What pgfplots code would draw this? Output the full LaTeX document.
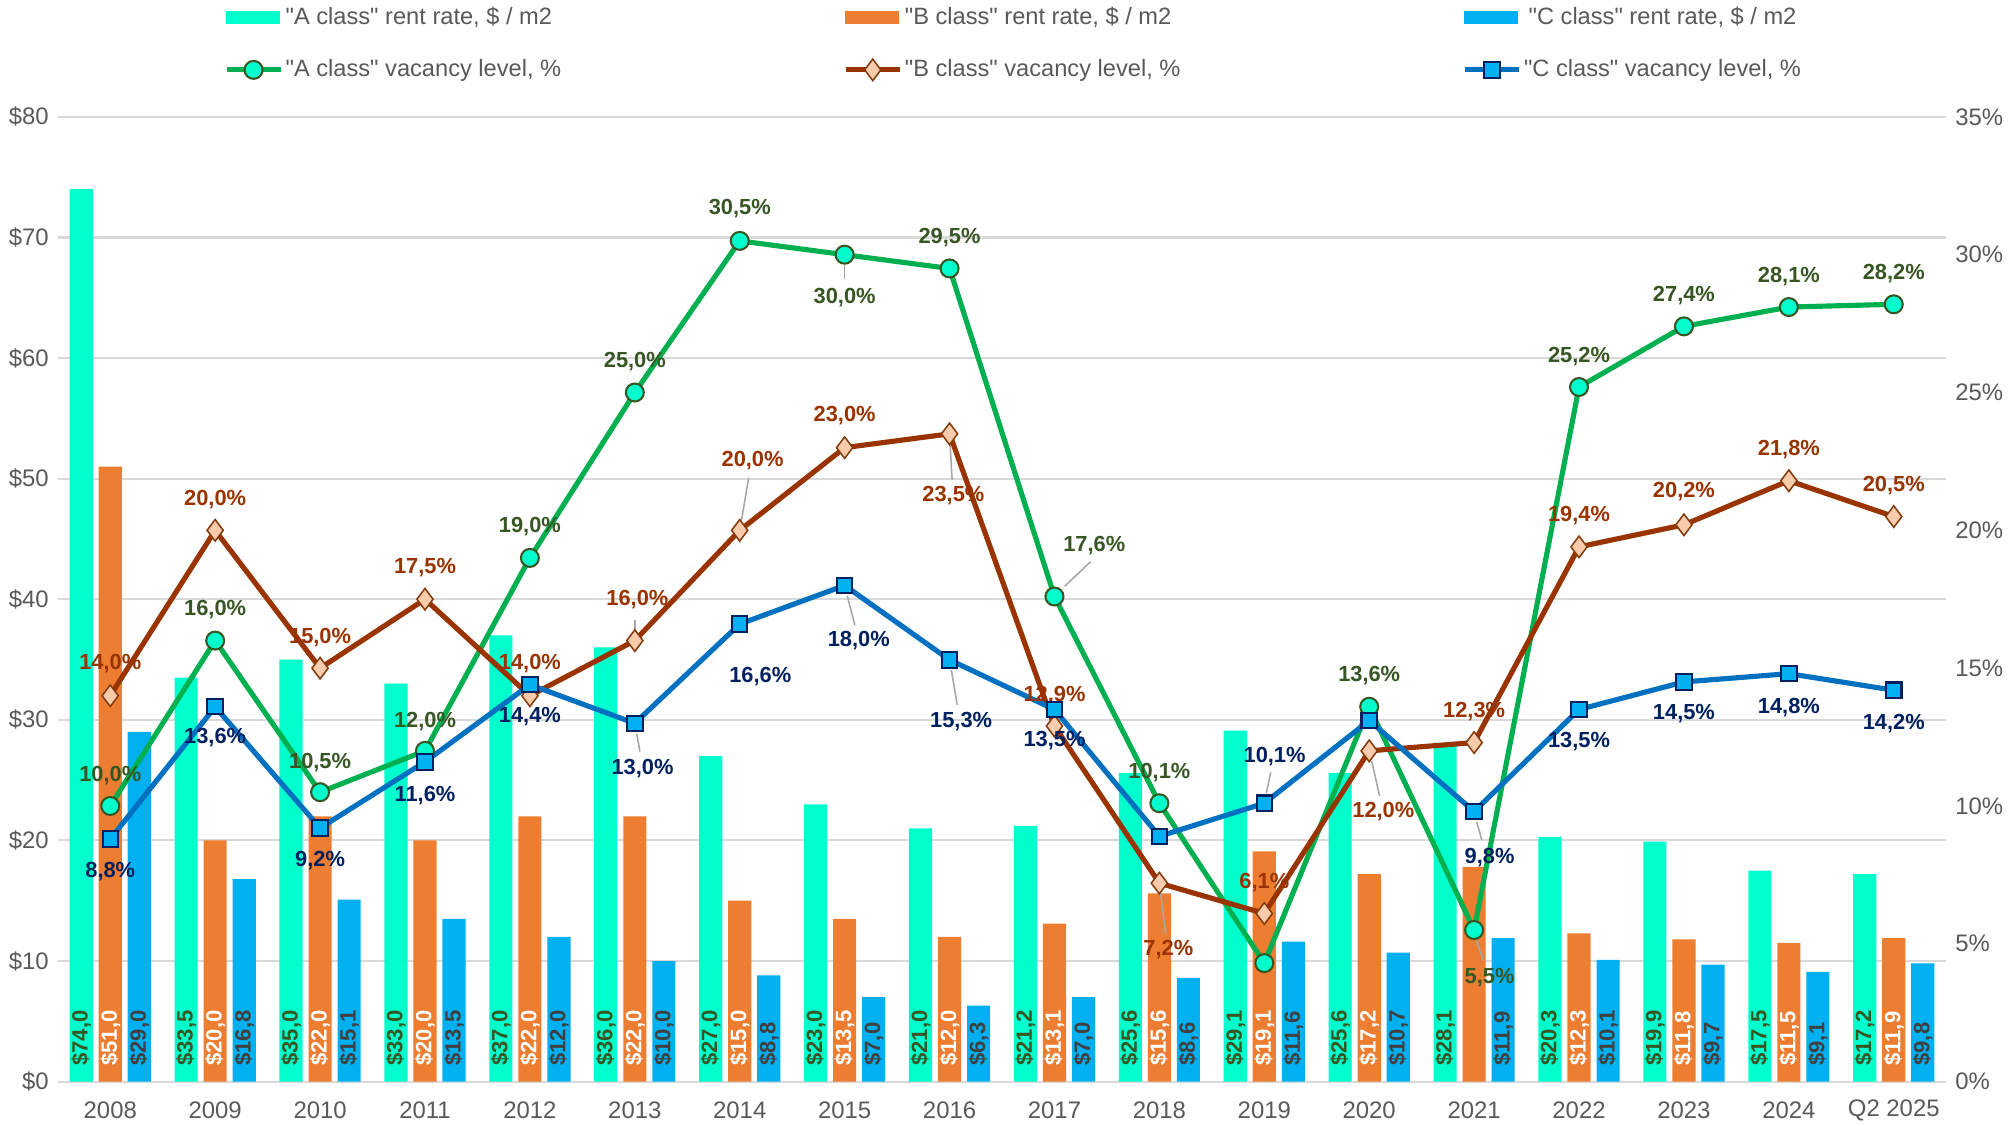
\documentclass[border=0pt]{standalone}
\usepackage{pgfplots}
\pgfplotsset{compat=1.18}
\usepackage{fontspec}
\setmainfont{Liberation Sans}[Ligatures=TeXOff]
\definecolor{barA}{HTML}{00FFCC}
\definecolor{barB}{HTML}{ED7D31}
\definecolor{barC}{HTML}{00B0F0}
\definecolor{lineA}{HTML}{00B050}
\definecolor{lineB}{HTML}{993300}
\definecolor{lineC}{HTML}{0070C0}
\definecolor{mkA}{HTML}{00FFCC}
\definecolor{mkB}{HTML}{F8CBAD}
\definecolor{mkC}{HTML}{00B0F0}
\definecolor{edA}{HTML}{375623}
\definecolor{edB}{HTML}{843C0C}
\definecolor{edC}{HTML}{002060}
\definecolor{labA}{HTML}{375623}
\definecolor{labB}{HTML}{993300}
\definecolor{labC}{HTML}{002060}
\definecolor{labCbar}{HTML}{404040}
\definecolor{tickgray}{HTML}{595959}
\definecolor{gridgray}{HTML}{D9D9D9}
\definecolor{leadgray}{HTML}{A6A6A6}

\tikzset{leader/.style={draw=leadgray, line width=0.6pt}}
\pgfplotsset{
  common/.style={width=735pt, height=375.5pt, scale only axis,
    xmin=-0.5, xmax=17.5,
    axis line style={draw=none}, tick style={draw=none},
    ticklabel style={font=\fontsize{9.3}{11}\selectfont, text=tickgray},
    /pgf/number format/assume math mode=true},
  barlab/.style={point meta=y,
    nodes near coords={\$\pgfmathprintnumber[fixed,fixed zerofill,precision=1,use comma,assume math mode=true]{\pgfplotspointmeta}},
    visualization depends on={\thisrow{y}\as\rawy},
    visualization depends on={\thisrow{show}\as\show},
    every node near coord/.append style={shift={(axis direction cs:0,-\rawy)}, rotate=90, anchor=west, inner sep=0pt, xshift=6pt,
      font=\bfseries\fontsize{8.6}{10}\selectfont, text=#1, opacity=\show}},
  linelab/.style={nodes near coords, point meta=explicit symbolic,
    visualization depends on={\thisrow{dx}\as\dx},
    visualization depends on={\thisrow{dy}\as\dy},
    every node near coord/.append style={anchor=center, xshift=\dx pt, yshift=\dy pt,
      font=\bfseries\fontsize{8.5}{10}\selectfont, text=#1}},
  linelegend/.style={legend image code/.code={\draw[mark repeat=2,mark phase=2,##1] plot coordinates {(0pt,0pt) (10.5pt,0pt) (21pt,0pt)};}},
}

\begin{document}
\begin{tikzpicture}
\begin{axis}[common,
  ymin=0, ymax=80, ytick={0,10,...,80},
  yticklabel={\$\pgfmathprintnumber{\tick}},
  xtick={0,...,17},
  xticklabels={2008,2009,2010,2011,2012,2013,2014,2015,2016,2017,2018,2019,2020,2021,2022,2023,2024,Q2 2025},
  xticklabel style={anchor=center, inner sep=1pt, yshift=-7pt},
  ymajorgrids, major grid style={draw=gridgray, line width=0.8pt},
  ybar=2.3pt, bar width=9pt,
  clip=false]
\addplot[fill=barA, draw=none, barlab=labA] table[x=x,y=y] {
x y show
0 74.0 1
1 33.5 1
2 35.0 1
3 33.0 1
4 37.0 1
5 36.0 1
6 27.0 1
7 23.0 1
8 21.0 1
9 21.2 1
10 25.6 1
11 29.1 1
12 25.6 1
13 28.1 1
14 20.3 1
15 19.9 1
16 17.5 1
17 17.2 1
};
\addplot[fill=barB, draw=none, barlab=white] table[x=x,y=y] {
x y show
0 51.0 1
1 20.0 1
2 22.0 1
3 20.0 1
4 22.0 1
5 22.0 1
6 15.0 1
7 13.5 1
8 12.0 1
9 13.1 1
10 15.6 1
11 19.1 1
12 17.2 1
13 17.8 0
14 12.3 1
15 11.8 1
16 11.5 1
17 11.9 1
};
\addplot[fill=barC, draw=none, barlab=labCbar] table[x=x,y=y] {
x y show
0 29.0 1
1 16.8 1
2 15.1 1
3 13.5 1
4 12.0 1
5 10.0 1
6 8.8 1
7 7.0 1
8 6.3 1
9 7.0 1
10 8.6 1
11 11.6 1
12 10.7 1
13 11.9 1
14 10.1 1
15 9.7 1
16 9.1 1
17 9.8 1
};
\path (rel axis cs:0,0) ++(-22.5pt,-17pt);
\path (rel axis cs:1,1) ++(26pt,45.5pt);
\end{axis}

\begin{axis}[common,
  ymin=0, ymax=35, ytick={0,5,...,35},
  yticklabel={\pgfmathprintnumber{\tick}\%},
  axis y line*=right, hide x axis,
  clip=false,
  legend columns=3,
  legend style={at={(0,1)}, anchor=north west, xshift=64.5pt, yshift=43pt, draw=none, fill=none,
    font=\fontsize{9.2}{11}\selectfont, row sep=12pt, inner sep=0pt,
    nodes={inner xsep=1pt, inner ysep=0pt},
    /tikz/every odd column/.append style={column sep=0pt},
    /tikz/every even column/.append style={column sep=0pt}},
  ]
\addlegendimage{legend image code/.code={\fill[barA] (0pt,-2.3pt) rectangle (20.5pt,2.3pt);}}
\addlegendentry{\makebox[216pt][l]{\textcolor{tickgray}{"A class" rent rate, \$ / m2}}}
\addlegendimage{legend image code/.code={\fill[barB] (0pt,-2.3pt) rectangle (20.5pt,2.3pt);}}
\addlegendentry{\makebox[216pt][l]{\textcolor{tickgray}{"B class" rent rate, \$ / m2}}}
\addlegendimage{legend image code/.code={\fill[barC] (0pt,-2.3pt) rectangle (20.5pt,2.3pt);}}
\addlegendentry{\textcolor{tickgray}{"C class" rent rate, \$ / m2}}

\draw[leader] (axis cs:7,30.0) ++(0pt,-4pt) -- ++(0pt,-5.5pt);
\draw[leader] (axis cs:9,17.6) ++(4pt,4pt) -- ++(10pt,9.5pt);
\draw[leader] (axis cs:13,5.5) ++(1pt,-4pt) -- ++(2.5pt,-8pt);
\draw[leader] (axis cs:5,16.0) ++(0pt,4pt) -- ++(0pt,4pt);
\draw[leader] (axis cs:6,20.0) ++(0.7pt,4pt) -- ++(2.8pt,16.5pt);
\draw[leader] (axis cs:8,23.5) ++(0.2pt,-4pt) -- ++(0.8pt,-14pt);
\draw[leader] (axis cs:10,7.2) ++(0.5pt,-4pt) -- ++(2pt,-16pt);
\draw[leader] (axis cs:12,12.0) ++(1pt,-4pt) -- ++(3pt,-13.5pt);
\draw[leader] (axis cs:5,13.0) ++(0.7pt,-4pt) -- ++(1.3pt,-7pt);
\draw[leader] (axis cs:7,18.0) ++(1pt,-4pt) -- ++(3pt,-11.5pt);
\draw[leader] (axis cs:8,15.3) ++(0.7pt,-4pt) -- ++(2.3pt,-13.5pt);
\draw[leader] (axis cs:11,10.1) ++(0.8pt,4pt) -- ++(1.7pt,8pt);
\draw[leader] (axis cs:13,9.8) ++(1pt,-4pt) -- ++(2pt,-7pt);

\addplot[lineA, line width=2pt, mark=*, mark size=3.5pt,
  mark options={fill=mkA, draw=edA, line width=0.8pt}, linelab=labA, linelegend]
  table[x=x, y=y, meta=lab] {
x y dx dy lab
0 10.0 0 12 10,0\%
1 16.0 0 12 16,0\%
2 10.5 0 11.5 10,5\%
3 12.0 0 11.5 12,0\%
4 19.0 0 12 19,0\%
5 25.0 0 12 25,0\%
6 30.5 0 12.5 30,5\%
7 30.0 0 -16.5 30,0\%
8 29.5 0 12 29,5\%
9 17.6 15.5 20 17,6\%
10 10.1 0 12 10,1\%
11 4.3 0 12 {}
12 13.6 0 12 13,6\%
13 5.5 6 -18.5 5,5\%
14 25.2 0 12 25,2\%
15 27.4 0 12 27,4\%
16 28.1 0 12 28,1\%
17 28.2 0 12 28,2\%
};
\addlegendentry{\makebox[216pt][l]{\textcolor{tickgray}{"A class" vacancy level, \%}}}

\addplot[lineB, line width=2pt, mark=diamond*, mark size=4.2pt,
  mark options={fill=mkB, draw=edB, line width=0.6pt}, linelab=labB, linelegend]
  table[x=x, y=y, meta=lab] {
x y dx dy lab
0 14.0 0 12.5 14,0\%
1 20.0 0 12 20,0\%
2 15.0 0 12 15,0\%
3 17.5 0 12.5 17,5\%
4 14.0 0 12.5 14,0\%
5 16.0 1 16 16,0\%
6 20.0 5 27 20,0\%
7 23.0 0 12.5 23,0\%
8 23.5 1.5 -24 23,5\%
9 12.9 0 12 12,9\%
10 7.2 3.5 -26 7,2\%
11 6.1 0 12 6,1\%
12 12.0 5.5 -23.5 12,0\%
13 12.3 0 12 12,3\%
14 19.4 0 12 19,4\%
15 20.2 0 13 20,2\%
16 21.8 0 12 21,8\%
17 20.5 0 12 20,5\%
};
\addlegendentry{\makebox[216pt][l]{\textcolor{tickgray}{"B class" vacancy level, \%}}}

\addplot[lineC, line width=2pt, mark=square*, mark size=3pt,
  mark options={fill=mkC, draw=edC, line width=0.8pt}, linelab=labC, linelegend]
  table[x=x, y=y, meta=lab] {
x y dx dy lab
0 8.8 0 -12.5 8,8\%
1 13.6 0 -12 13,6\%
2 9.2 0 -12.5 9,2\%
3 11.6 0 -13 11,6\%
4 14.4 0 -12.5 14,4\%
5 13.0 3 -17.5 13,0\%
6 16.6 8 -20.5 16,6\%
7 18.0 5.5 -21.5 18,0\%
8 15.3 4.5 -24 15,3\%
9 13.5 0 -12 13,5\%
10 8.9 0 -12 {}
11 10.1 4 18 10,1\%
12 13.1 0 -12 {}
13 9.8 6 -18 9,8\%
14 13.5 0 -12.5 13,5\%
15 14.5 0 -12.5 14,5\%
16 14.8 0 -13 14,8\%
17 14.2 0 -13 14,2\%
};
\addlegendentry{\textcolor{tickgray}{"C class" vacancy level, \%}}
\end{axis}
\end{tikzpicture}
\end{document}
